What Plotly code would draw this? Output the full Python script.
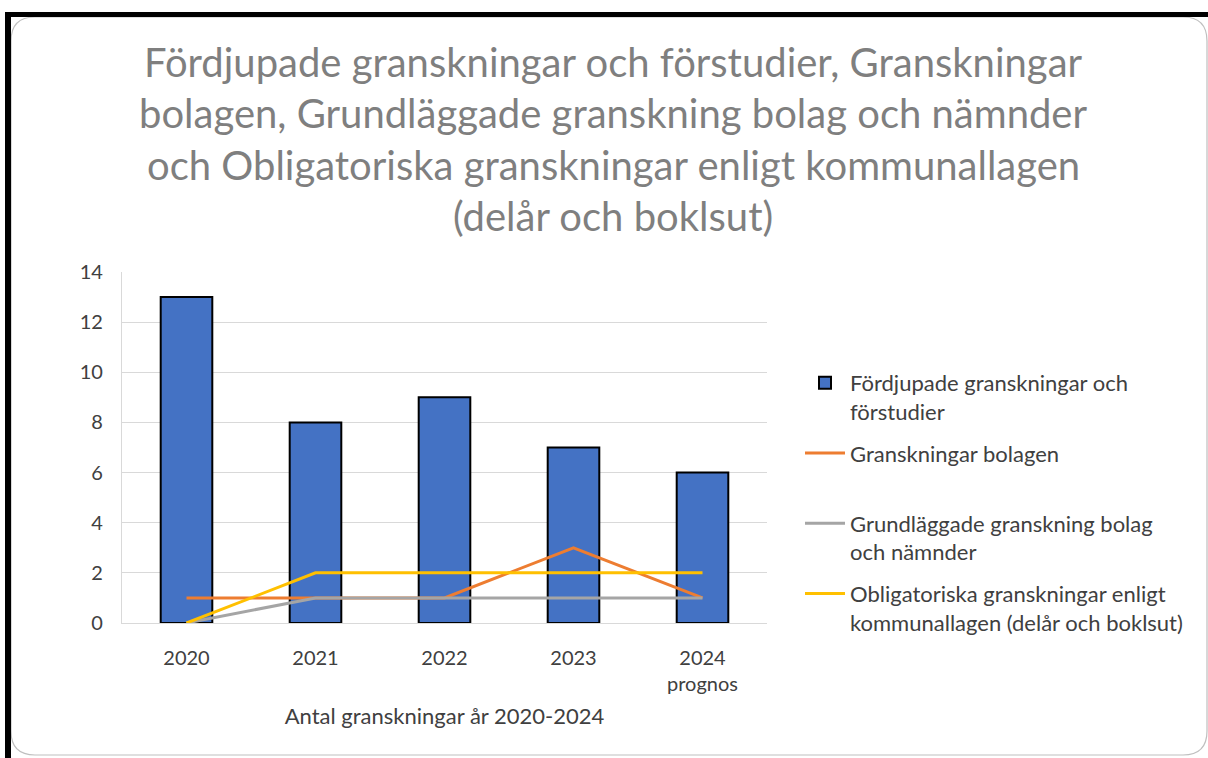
import plotly.graph_objects as go

categories = ["2020", "2021", "2022", "2023", "2024<br>prognos"]
fordjupade = [13, 8, 9, 7, 6]
bolagen = [1, 1, 1, 3, 1]
grundlaggande = [0, 1, 1, 1, 1]
obligatoriska = [0, 2, 2, 2, 2]

names = [
    "Fördjupade granskningar och<br>förstudier",
    "Granskningar bolagen<br> ",
    "Grundläggade granskning bolag<br>och nämnder",
    "Obligatoriska granskningar enligt<br>kommunallagen (delår och boklsut)",
]
title_lines = [
    "Fördjupade granskningar och förstudier, Granskningar",
    "bolagen, Grundläggade granskning bolag och nämnder",
    "och Obligatoriska granskningar enligt kommunallagen",
    "(delår och boklsut)",
]

W, H = 1208, 758
ML, MR, MT, MB = 122, 441, 272, 135
PW, PH = W - ML - MR, H - MT - MB


def px(x):
    return (x - ML) / PW


def py(y):
    return (H - MB - y) / PH


FONT = "Lato"
fig = go.Figure()
fig.add_trace(go.Bar(x=categories, y=fordjupade, name=names[0], legendgroup="a",
                     marker=dict(color="#4472C4", line=dict(color="black", width=2))))
fig.add_trace(go.Scatter(x=categories, y=bolagen, name=names[1], mode="lines", legendgroup="b",
                         line=dict(color="#ED7D31", width=3)))
fig.add_trace(go.Scatter(x=categories, y=grundlaggande, name=names[2], mode="lines", legendgroup="c",
                         line=dict(color="#A5A5A5", width=3)))
fig.add_trace(go.Scatter(x=categories, y=obligatoriska, name=names[3], mode="lines", legendgroup="d",
                         line=dict(color="#FFC000", width=3)))

shapes = []
# black frame (top and left)
shapes.append(dict(type="rect", xref="paper", yref="paper", x0=px(5), x1=px(1212), y0=py(12), y1=py(17),
                   fillcolor="black", line=dict(width=0), layer="above"))
shapes.append(dict(type="rect", xref="paper", yref="paper", x0=px(5), x1=px(11), y0=py(12), y1=py(762),
                   fillcolor="black", line=dict(width=0), layer="above"))
# rounded panel outline
r = 24
x0, x1, y0, y1 = 11, 1207, 17, 755
path = (f"M {px(x0)},{py(y0 + r)} Q {px(x0)},{py(y0)} {px(x0 + r)},{py(y0)} "
        f"L {px(x1 - r)},{py(y0)} Q {px(x1)},{py(y0)} {px(x1)},{py(y0 + r)} "
        f"L {px(x1)},{py(y1 - r)} Q {px(x1)},{py(y1)} {px(x1 - r)},{py(y1)} "
        f"L {px(x0 + r)},{py(y1)} Q {px(x0)},{py(y1)} {px(x0)},{py(y1 - r)} Z")
shapes.append(dict(type="path", xref="paper", yref="paper", path=path,
                   line=dict(color="#BFBFBF", width=1.2), layer="below"))

annotations = []
for i, t in enumerate(title_lines):
    annotations.append(dict(text=t, xref="paper", yref="paper", x=px(613), y=py(62 + 51.3 * i),
                            xanchor="center", yanchor="middle", showarrow=False,
                            font=dict(family=FONT, size=40, color="#7F7F7F")))

fig.update_layout(
    width=W, height=H, autosize=False,
    margin=dict(l=ML, r=MR, t=MT, b=MB),
    paper_bgcolor="white", plot_bgcolor="white",
    font=dict(family=FONT, size=20, color="#404040"),
    shapes=shapes, annotations=annotations,
    bargap=0.6,
    legend=dict(x=px(800), y=py(362), xanchor="left", yanchor="top", valign="top",
                font=dict(family=FONT, size=22, color="#404040"), tracegroupgap=10,
                itemwidth=40, bgcolor="rgba(0,0,0,0)"),
    xaxis=dict(showgrid=False, showline=True, linecolor="#D9D9D9", linewidth=1.3,
               ticks="", ticklabelstandoff=17, tickfont=dict(size=20, color="#404040"),
               title=dict(text="Antal granskningar år 2020-2024", standoff=14,
                          font=dict(size=22, color="#404040"))),
    yaxis=dict(range=[0, 14], dtick=2, showgrid=True, gridcolor="#D9D9D9", gridwidth=1.3,
               showline=True, linecolor="#D9D9D9", linewidth=1.3, zeroline=False,
               ticks="", ticklabelstandoff=14, tickfont=dict(size=20, color="#404040")),
)

fig.write_html("out.html")
